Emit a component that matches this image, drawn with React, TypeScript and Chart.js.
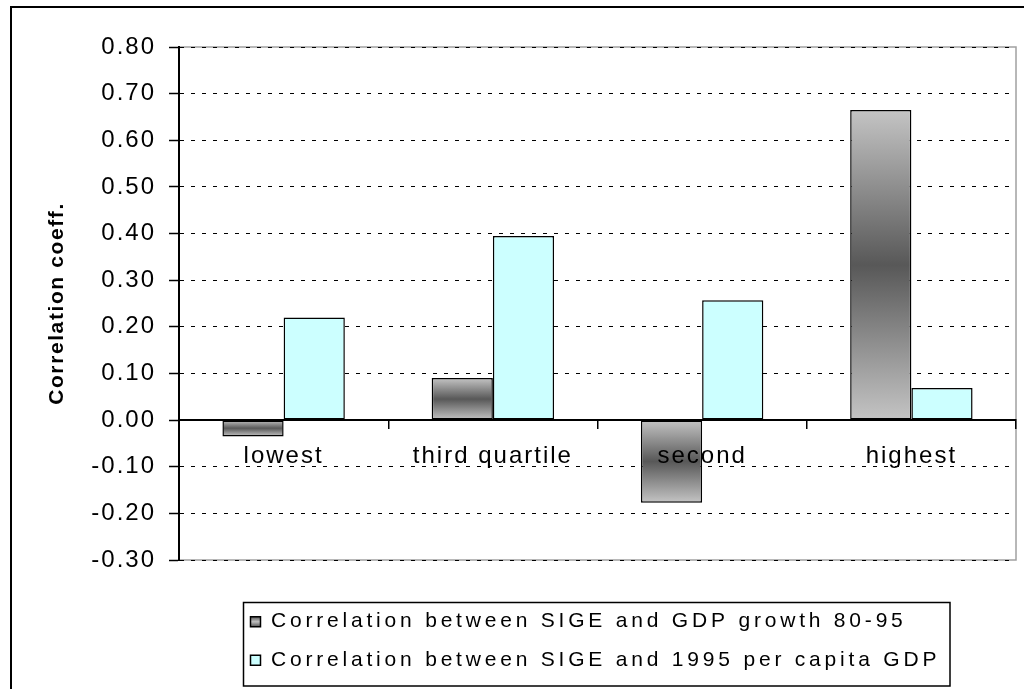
import React, { useEffect, useRef } from 'react';
import { Chart, registerables } from 'chart.js';

Chart.register(...registerables);

const categories = ['lowest', 'third quartile', 'second', 'highest'];
const growthLabel = 'Correlation between SIGE and GDP growth 80-95';
const gdpLabel = 'Correlation between SIGE and 1995 per capita GDP';
const growthValues = [-0.035, 0.09, -0.177, 0.665];
const gdpValues = [0.22, 0.395, 0.257, 0.069];
const yTitle = 'Correlation coeff.';
const yMin = -0.3;
const yMax = 0.8;
const yStep = 0.1;

const FONT = "'Liberation Sans', Arial, sans-serif";
const TICK_SPACING = '2px';
const LEGEND_SPACING = '3.8px';
const TITLE_SPACING = '1.6px';
const LEGEND_FONT = 21;
const LEGEND_PAD = 17.5;

function growthFill(c: any) {
  const chart = c.chart;
  const ys = chart.scales && chart.scales.y;
  if (c.type !== 'data' || !ys || !chart.chartArea) return '#808080';
  const v = c.raw as number;
  const a = ys.getPixelForValue(0);
  const b = ys.getPixelForValue(v);
  const top = Math.min(a, b);
  const bot = Math.max(a, b);
  if (bot - top < 1) return '#808080';
  const g = chart.ctx.createLinearGradient(0, top, 0, bot);
  g.addColorStop(0, '#c4c4c4');
  g.addColorStop(0.5, '#585858');
  g.addColorStop(1, '#c4c4c4');
  return g;
}

const decorPlugin = {
  id: 'decor',
  beforeUpdate(chart: any) {
    chart.ctx.letterSpacing = TICK_SPACING;
  },
  beforeLayout(chart: any) {
    chart.ctx.letterSpacing = TICK_SPACING;
  },
  afterLayout(chart: any) {
    const lg: any = chart.legend;
    if (lg) {
      const targetTop = 593.7;
      const dy = targetTop - lg.top;
      lg.top += dy;
      lg.bottom += dy;
      lg.left = 233;
      if (!lg.__wrapped) {
        const orig = lg.draw.bind(lg);
        lg.draw = function (area: any) {
          const c = chart.ctx;
          c.save();
          c.letterSpacing = LEGEND_SPACING;
          orig(area);
          c.restore();
        };
        lg.__wrapped = true;
      }
    }
    const ys: any = chart.scales.y;
    if (ys && !ys.__wrapped) {
      const o = ys.drawTitle.bind(ys);
      ys.drawTitle = function () {
        const c = chart.ctx;
        c.save();
        c.letterSpacing = TITLE_SPACING;
        o();
        c.restore();
      };
      ys.__wrapped = true;
    }
  },
  beforeDraw(chart: any) {
    const ctx = chart.ctx;
    ctx.letterSpacing = TICK_SPACING;
    const ca = chart.chartArea;
    ctx.save();
    ctx.strokeStyle = '#000';
    ctx.lineWidth = 2;
    ctx.strokeRect(11, 7, 1100, 1000);
    ctx.strokeStyle = '#a0a0a0';
    ctx.lineWidth = 1.5;
    ctx.strokeRect(ca.left, ca.top, ca.right - ca.left, ca.bottom - ca.top);
    ctx.restore();
  },
  afterDraw(chart: any) {
    const ctx = chart.ctx;
    ctx.save();
    ctx.strokeStyle = '#000';
    ctx.lineWidth = 1.5;
    ctx.strokeRect(243.5, 602.5, 706.5, 83.5);
    ctx.restore();
  },
};

export default function App() {
  const ref = useRef<HTMLCanvasElement | null>(null);

  useEffect(() => {
    document.body.style.margin = '0';
    const canvas = ref.current;
    if (!canvas) return;
    const tickFont = { family: FONT, size: 24 };
    const chart = new Chart(canvas, {
      type: 'bar',
      data: {
        labels: categories,
        datasets: [
          {
            label: growthLabel,
            data: growthValues,
            backgroundColor: growthFill as any,
            borderColor: '#000',
            borderWidth: 1.5,
            borderSkipped: false,
            barPercentage: 1,
            categoryPercentage: 0.585,
          },
          {
            label: gdpLabel,
            data: gdpValues,
            backgroundColor: '#ccffff',
            borderColor: '#000',
            borderWidth: 1.5,
            borderSkipped: false,
            barPercentage: 1,
            categoryPercentage: 0.585,
          },
        ],
      },
      options: {
        animation: false,
        responsive: false,
        maintainAspectRatio: false,
        events: [],
        layout: { padding: { left: 0, top: 47, right: 8, bottom: 42 } },
        plugins: {
          tooltip: { enabled: false },
          legend: {
            position: 'bottom',
            align: 'start',
            labels: {
              color: '#000',
              font: { family: FONT, size: LEGEND_FONT },
              boxWidth: 10,
              boxHeight: 10,
              padding: LEGEND_PAD,
              generateLabels: (ch: any) => {
                const items = (Chart.defaults.plugins.legend.labels as any).generateLabels(ch);
                const g = ch.ctx.createLinearGradient(0, 616.7, 0, 626.7);
                g.addColorStop(0, '#555555');
                g.addColorStop(0.5, '#c0c0c0');
                g.addColorStop(1, '#555555');
                items[0].fillStyle = g;
                items.forEach((it: any) => {
                  it.strokeStyle = '#000';
                  it.lineWidth = 1.5;
                });
                return items;
              },
            },
          },
        },
        scales: {
          x: {
            type: 'category',
            position: { y: 0 } as any,
            grid: {
              display: true,
              drawOnChartArea: false,
              drawTicks: true,
              tickLength: 8,
              color: '#000',
              lineWidth: 1.5,
              offset: true,
              z: 1,
            },
            border: { display: true, color: '#000', width: 2, z: 1 },
            ticks: {
              font: tickFont,
              color: '#000',
              padding: 14,
              maxRotation: 0,
              autoSkip: false,
              z: 2,
            },
          },
          y: {
            type: 'linear',
            min: yMin,
            max: yMax,
            afterFit: (s: any) => {
              s.width = 179;
            },
            ticks: {
              stepSize: yStep,
              font: tickFont,
              color: '#000',
              padding: 13,
              callback: (v: any) => Number(v).toFixed(2),
            },
            grid: {
              color: '#000',
              lineWidth: 1,
              tickLength: 10,
              tickColor: '#000',
              tickWidth: 1.5,
              drawTicks: true,
            },
            border: { display: true, color: '#000', width: 2, dash: [4, 7] },
            title: {
              display: true,
              text: yTitle,
              color: '#000',
              font: { family: FONT, size: 21, weight: 'bold' },
              padding: { top: 44.4, bottom: 0 },
            },
          },
        },
      },
      plugins: [decorPlugin as any],
    } as any);
    return () => chart.destroy();
  }, []);

  return (
    <canvas
      ref={ref}
      width={1024}
      height={689}
      style={{ display: 'block', width: '1024px', height: '689px' }}
    />
  );
}
